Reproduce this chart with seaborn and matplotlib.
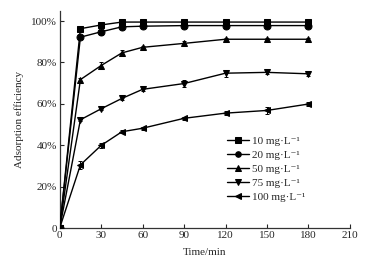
import numpy as np
import pandas as pd
import matplotlib
matplotlib.use("Agg")
import matplotlib.pyplot as plt
import seaborn as sns

time = [0, 15, 30, 45, 60, 90, 120, 150, 180]
labels = ["10 mg·L⁻¹", "20 mg·L⁻¹", "50 mg·L⁻¹", "75 mg·L⁻¹", "100 mg·L⁻¹"]
eff_10 = [0, 96.3, 98.1, 99.5, 99.5, 99.5, 99.5, 99.5, 99.5]
eff_20 = [0, 92.2, 94.8, 97.2, 97.5, 97.8, 97.8, 97.8, 97.8]
eff_50 = [0, 71.7, 78.5, 84.6, 87.3, 89.2, 91.2, 91.2, 91.2]
eff_75 = [0, 52.3, 57.6, 62.6, 67.0, 69.8, 74.8, 75.2, 74.5]
eff_100 = [0, 30.5, 39.9, 46.5, 48.2, 53.0, 55.5, 56.8, 59.9]
err_10 = [0, 0.8, 0.8, 0.8, 1.2, 1.2, 0.8, 0.8, 0.8]
err_20 = [0, 0.8, 1.6, 0.8, 0.8, 0.8, 0.8, 0.8, 0.8]
err_50 = [0, 0.8, 1.6, 1.2, 0.8, 1.0, 0.8, 0.8, 0.8]
err_75 = [0, 0.8, 0.8, 0.8, 0.8, 1.6, 1.6, 0.8, 1.0]
err_100 = [0, 1.8, 1.2, 0.8, 0.8, 0.8, 0.8, 1.6, 0.8]
markers = ["s", "o", "^", "v", "<"]

series = [eff_10, eff_20, eff_50, eff_75, eff_100]
errors = [err_10, err_20, err_50, err_75, err_100]

rows = []
for lab, vals in zip(labels, series):
    for t, v in zip(time, vals):
        rows.append({"time": t, "eff": v, "conc": lab})
df = pd.DataFrame(rows)

sns.set_style("ticks")
plt.rcParams["font.family"] = ["Liberation Serif", "DejaVu Serif"]
plt.rcParams["mathtext.fontset"] = "stix"

fig = plt.figure(figsize=(3.73, 2.67), dpi=100)
ax = fig.add_axes([0.16, 0.146, 0.778, 0.814])

for lab, vals, errs in zip(labels, series, errors):
    ax.errorbar(time, vals, yerr=errs, fmt="none", ecolor="black",
                elinewidth=0.7, capsize=1.5, capthick=0.7, zorder=1)

sns.lineplot(data=df, x="time", y="eff", hue="conc", style="conc",
             palette=["black"] * 5, markers=dict(zip(labels, markers)),
             dashes=False, markersize=5, linewidth=1.0,
             markeredgecolor="black", ax=ax, zorder=3)

ax.set_xlim(0, 210)
ax.set_ylim(0, 105)
ax.set_xticks([0, 30, 60, 90, 120, 150, 180, 210])
ax.set_yticks([0, 20, 40, 60, 80, 100])
ax.set_yticklabels(["0", "20%", "40%", "60%", "80%", "100%"])
ax.tick_params(direction="in", length=3, width=0.8, labelsize=8, pad=2)
for s in ["top", "right"]:
    ax.spines[s].set_visible(False)
for s in ["left", "bottom"]:
    ax.spines[s].set_linewidth(0.9)
    ax.spines[s].set_color("#333333")

ax.set_xlabel("Time/min", fontsize=8, labelpad=6)
ax.set_ylabel("Adsorption efficiency", fontsize=8, labelpad=5)

leg = ax.legend(loc="lower right", bbox_to_anchor=(0.872, 0.083), frameon=False,
                fontsize=8, handlelength=2.0, handletextpad=0.2,
                labelspacing=0.38, borderpad=0.2)
for h in leg.legend_handles:
    h.set_markersize(4)

fig.savefig("out.png", dpi=100)
